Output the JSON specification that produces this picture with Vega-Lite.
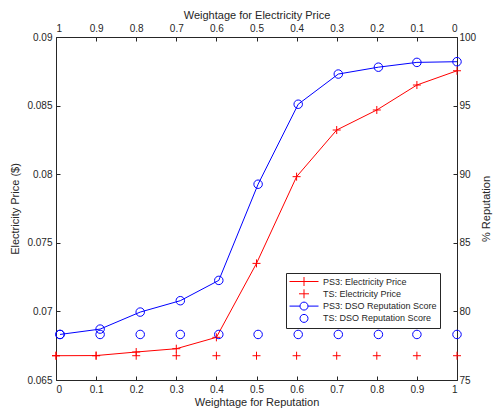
{
  "$schema": "https://vega.github.io/schema/vega-lite/v6.json",
  "width": 401,
  "height": 343,
  "autosize": "none",
  "padding": {"left": 56, "top": 37, "right": 38, "bottom": 34},
  "background": "white",
  "config": {
    "view": {"stroke": null},
    "font": "Liberation Sans",
    "axis": {
      "domainColor": "#262626", "tickColor": "#262626", "labelColor": "#262626", "titleColor": "#262626",
      "labelFontSize": 10, "titleFontSize": 11, "titleFontWeight": "normal", "grid": false,
      "tickSize": -4, "labelPadding": 8, "domainWidth": 1
    }
  },
  "data": {"values": [
    {"series": "PS3: Electricity Price", "w": 0, "v": 0.06677},
    {"series": "PS3: Electricity Price", "w": 0.1, "v": 0.06678},
    {"series": "PS3: Electricity Price", "w": 0.2, "v": 0.06704},
    {"series": "PS3: Electricity Price", "w": 0.3, "v": 0.06728},
    {"series": "PS3: Electricity Price", "w": 0.4, "v": 0.06811},
    {"series": "PS3: Electricity Price", "w": 0.5, "v": 0.0735},
    {"series": "PS3: Electricity Price", "w": 0.6, "v": 0.07982},
    {"series": "PS3: Electricity Price", "w": 0.7, "v": 0.08322},
    {"series": "PS3: Electricity Price", "w": 0.8, "v": 0.08468},
    {"series": "PS3: Electricity Price", "w": 0.9, "v": 0.0865},
    {"series": "PS3: Electricity Price", "w": 1, "v": 0.08754},
    {"series": "TS: Electricity Price", "w": 0, "v": 0.06677},
    {"series": "TS: Electricity Price", "w": 0.1, "v": 0.06677},
    {"series": "TS: Electricity Price", "w": 0.2, "v": 0.06677},
    {"series": "TS: Electricity Price", "w": 0.3, "v": 0.06677},
    {"series": "TS: Electricity Price", "w": 0.4, "v": 0.06677},
    {"series": "TS: Electricity Price", "w": 0.5, "v": 0.06677},
    {"series": "TS: Electricity Price", "w": 0.6, "v": 0.06677},
    {"series": "TS: Electricity Price", "w": 0.7, "v": 0.06677},
    {"series": "TS: Electricity Price", "w": 0.8, "v": 0.06677},
    {"series": "TS: Electricity Price", "w": 0.9, "v": 0.06677},
    {"series": "TS: Electricity Price", "w": 1, "v": 0.06677},
    {"series": "PS3: DSO Reputation Score", "w": 0.01, "v": 78.32},
    {"series": "PS3: DSO Reputation Score", "w": 0.11, "v": 78.71},
    {"series": "PS3: DSO Reputation Score", "w": 0.21, "v": 79.95},
    {"series": "PS3: DSO Reputation Score", "w": 0.31, "v": 80.78},
    {"series": "PS3: DSO Reputation Score", "w": 0.406, "v": 82.26},
    {"series": "PS3: DSO Reputation Score", "w": 0.504, "v": 89.27},
    {"series": "PS3: DSO Reputation Score", "w": 0.604, "v": 95.1},
    {"series": "PS3: DSO Reputation Score", "w": 0.704, "v": 97.3},
    {"series": "PS3: DSO Reputation Score", "w": 0.804, "v": 97.8},
    {"series": "PS3: DSO Reputation Score", "w": 0.9, "v": 98.15},
    {"series": "PS3: DSO Reputation Score", "w": 1, "v": 98.2},
    {"series": "TS: DSO Reputation Score", "w": 0.01, "v": 78.32},
    {"series": "TS: DSO Reputation Score", "w": 0.11, "v": 78.32},
    {"series": "TS: DSO Reputation Score", "w": 0.21, "v": 78.32},
    {"series": "TS: DSO Reputation Score", "w": 0.31, "v": 78.32},
    {"series": "TS: DSO Reputation Score", "w": 0.406, "v": 78.32},
    {"series": "TS: DSO Reputation Score", "w": 0.504, "v": 78.32},
    {"series": "TS: DSO Reputation Score", "w": 0.604, "v": 78.32},
    {"series": "TS: DSO Reputation Score", "w": 0.704, "v": 78.32},
    {"series": "TS: DSO Reputation Score", "w": 0.804, "v": 78.32},
    {"series": "TS: DSO Reputation Score", "w": 0.9, "v": 78.32},
    {"series": "TS: DSO Reputation Score", "w": 1, "v": 78.32}
  ]},
  "layer": [
    {
      "layer": [
        {
          "transform": [{"filter": {"field": "series", "equal": "PS3: Electricity Price"}}],
          "mark": {"type": "line", "color": "#ff0000", "strokeWidth": 1},
          "encoding": {
            "x": {"field": "w", "type": "quantitative", "scale": {"domain": [0, 1], "nice": false},
              "axis": {"orient": "bottom", "title": "Weightage for Reputation", "values": [0, 0.1, 0.2, 0.3, 0.4, 0.5, 0.6, 0.7, 0.8, 0.9, 1], "format": "~g", "titlePadding": 2}},
            "y": {"field": "v", "type": "quantitative", "scale": {"domain": [0.065, 0.09], "nice": false, "zero": false},
              "axis": {"orient": "left", "title": "Electricity Price ($)", "values": [0.065, 0.07, 0.075, 0.08, 0.085, 0.09], "format": "~g", "titlePadding": 6}}
          }
        },
        {
          "transform": [{"filter": {"field": "series", "oneOf": ["PS3: Electricity Price", "TS: Electricity Price"]}}],
          "mark": {"type": "point", "shape": "M-1,0H1M0,-1V1", "filled": false, "color": "#ff0000", "size": 64, "strokeWidth": 1, "opacity": 1},
          "encoding": {
            "x": {"field": "w", "type": "quantitative"},
            "y": {"field": "v", "type": "quantitative"}
          }
        },
        {
          "transform": [{"filter": "datum.w == 1"}],
          "mark": {"type": "point", "filled": false, "opacity": 0, "size": 100, "strokeWidth": 1},
          "encoding": {
            "x": {"field": "w", "type": "quantitative"},
            "color": {"field": "series", "type": "nominal",
              "scale": {"domain": ["PS3: Electricity Price", "TS: Electricity Price", "PS3: DSO Reputation Score", "TS: DSO Reputation Score"],
                "range": ["#ff0000", "#ff0000", "#0000ff", "#0000ff"]},
              "legend": {"orient": "none", "legendX": 230, "legendY": 236, "title": null,
                "strokeColor": "#262626", "fillColor": "white", "padding": 3,
                "labelFontSize": 9, "labelColor": "#262626", "symbolSize": 100, "symbolStrokeWidth": 1,
                "symbolOpacity": 1, "rowPadding": -0.7, "labelOffset": 23,
                "encode": {"symbols": {"update": {"opacity": {"value": 1}}}}}},
            "shape": {"field": "series", "type": "nominal",
              "scale": {"domain": ["PS3: Electricity Price", "TS: Electricity Price", "PS3: DSO Reputation Score", "TS: DSO Reputation Score"],
                "range": ["M-1,0H4.8M1.9,-0.9V0.9", "M0.9,0H2.9M1.9,-0.9V0.9", "M-1,0H1.1M2.7,0H4.8M1.1,0A0.8,0.8,0,1,1,2.7,0A0.8,0.8,0,1,1,1.1,0", "M1.1,0A0.8,0.8,0,1,1,2.7,0A0.8,0.8,0,1,1,1.1,0"]}}
          }
        }
      ]
    },
    {
      "layer": [
        {
          "transform": [{"filter": {"field": "series", "equal": "PS3: DSO Reputation Score"}}],
          "mark": {"type": "line", "color": "#0000ff", "strokeWidth": 1},
          "encoding": {
            "x": {"field": "w", "type": "quantitative", "scale": {"domain": [0, 1], "nice": false},
              "axis": {"orient": "top", "title": "Weightage for Electricity Price", "values": [0, 0.1, 0.2, 0.3, 0.4, 0.5, 0.6, 0.7, 0.8, 0.9, 1], "labelExpr": "format(1 - datum.value, '.1~f')", "titlePadding": 3}},
            "y": {"field": "v", "type": "quantitative", "scale": {"domain": [75, 100], "nice": false, "zero": false},
              "axis": {"orient": "right", "title": "% Reputation", "titleAngle": 270, "titleBaseline": "bottom", "values": [75, 80, 85, 90, 95, 100], "labelPadding": 6, "titlePadding": 16}}
          }
        },
        {
          "transform": [{"filter": {"field": "series", "oneOf": ["PS3: DSO Reputation Score", "TS: DSO Reputation Score"]}}],
          "mark": {"type": "point", "shape": "circle", "filled": false, "color": "#0000ff", "size": 72, "strokeWidth": 1, "opacity": 1},
          "encoding": {
            "x": {"field": "w", "type": "quantitative"},
            "y": {"field": "v", "type": "quantitative"}
          }
        }
      ]
    }
  ],
  "resolve": {"scale": {"x": "independent", "y": "independent"}}
}
